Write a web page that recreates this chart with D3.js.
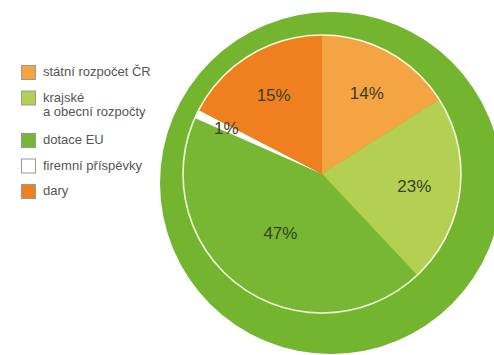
<!DOCTYPE html>
<html>
<head>
<meta charset="utf-8">
<script src="https://cdn.jsdelivr.net/npm/d3@7"></script>
<style>
  body { margin: 0; background: #fff; }
</style>
</head>
<body>
<div id="chart"></div>
<script>
var w = 494;
var h = 355;

// data
var categories = ["státní rozpočet ČR", "krajské|a obecní rozpočty", "dotace EU", "firemní příspěvky", "dary"];
var shares = [14, 23, 47, 1, 15];          // printed labels
var sliceSizes = [16, 22, 43.6, 1, 17.4];  // slice sizes as drawn
var colors = ["#f5a443", "#b3d052", "#77b733", "#ffffff", "#f0801f"];

var svg = d3.select("#chart")
    .append("svg")
    .attr("width", w)
    .attr("height", h);

// big green ring behind
svg.append("circle")
    .attr("cx", 331)
    .attr("cy", 183)
    .attr("r", 171)
    .style("fill", "#74b530");

var cx = 322, cy = 174, r = 139;

var pie = d3.pie().sort(null).value(function(d) { return d; });
var arcs = pie(sliceSizes);

var arc = d3.arc().innerRadius(0).outerRadius(r);

var g = svg.append("g")
    .attr("transform", "translate(" + cx + "," + cy + ")");

g.selectAll("path")
    .data(arcs)
    .enter()
    .append("path")
    .attr("d", arc)
    .style("fill", function(d, i) { return colors[i]; });

g.append("circle")
    .attr("r", r)
    .style("fill", "none")
    .style("stroke", "#f3f8dc")
    .style("stroke-width", 1.6);

// label radius per slice
function labelR(i) {
    if (i == 2) return 72;
    if (i == 3) return 106;
    return 93;
}

g.selectAll("text.pct")
    .data(arcs)
    .enter()
    .append("text")
    .attr("class", "pct")
    .attr("transform", function(d, i) {
        var a = d3.arc().innerRadius(labelR(i)).outerRadius(labelR(i));
        return "translate(" + a.centroid(d) + ")";
    })
    .attr("text-anchor", "middle")
    .attr("dy", "0.36em")
    .style("font-family", "Liberation Sans, Arial, sans-serif")
    .style("font-size", "17px")
    .style("fill", "#3a3f2a")
    .text(function(d, i) { return shares[i] + "%"; });

// legend
function rowY(i) {
    return 65 + i * 25.5 + (i >= 2 ? 17 : 0);
}

var legend = svg.selectAll("g.leg")
    .data(categories)
    .enter()
    .append("g")
    .attr("class", "leg")
    .attr("transform", function(d, i) { return "translate(21," + rowY(i) + ")"; });

legend.append("rect")
    .attr("x", 0.5)
    .attr("y", 0.5)
    .attr("width", 14)
    .attr("height", 14)
    .style("fill", function(d, i) { return colors[i]; })
    .style("stroke", "#9a9a9a")
    .style("stroke-width", 1);

legend.append("text")
    .attr("x", 22)
    .attr("y", 11)
    .style("font-family", "Liberation Sans, Arial, sans-serif")
    .style("font-size", "13px")
    .style("fill", "#555")
    .selectAll("tspan")
    .data(function(d) { return d.split("|"); })
    .enter()
    .append("tspan")
    .attr("x", 22)
    .attr("dy", function(d, j) { return j == 0 ? 0 : 14; })
    .text(function(d) { return d; });
</script>
</body>
</html>
